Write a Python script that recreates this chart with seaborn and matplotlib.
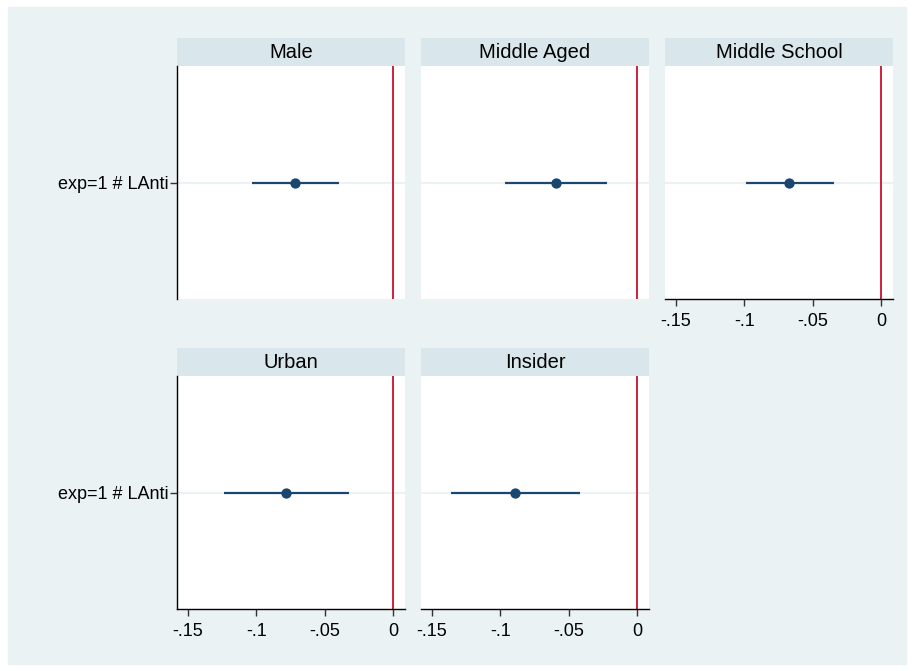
import matplotlib
matplotlib.use("Agg")
import matplotlib.pyplot as plt
from matplotlib.patches import Rectangle
import seaborn as sns
import pandas as pd

# coefficient estimates
groups = ["Male", "Middle Aged", "Middle School", "Urban", "Insider"]
coef = [-0.0716, -0.0590, -0.0670, -0.0780, -0.0890]
ci_low = [-0.1032, -0.0963, -0.0990, -0.1235, -0.1360]
ci_high = [-0.0392, -0.0216, -0.0346, -0.0320, -0.0420]
term = "exp=1 # LAnti"
xticks = [-0.15, -0.1, -0.05, 0]
xticklabels = ["-.15", "-.1", "-.05", "0"]

df = pd.DataFrame({"group": groups, "coef": coef, "lo": ci_low, "hi": ci_high, "term": term})

sns.set_theme(style="white")
plt.rcParams["font.family"] = ["Liberation Sans", "DejaVu Sans"]
plt.rcParams["text.color"] = "black"
plt.rcParams["xtick.color"] = "black"
plt.rcParams["ytick.color"] = "black"

BG = "#EAF2F3"
HEAD = "#D9E6EB"
NAVY = "#1A476F"
RED = "#C8102E"
FS = 13

W, H = 914, 671
fig = plt.figure(figsize=(W / 100, H / 100), dpi=100)
fig.patch.set_facecolor("white")
fig.patches.append(Rectangle((8 / W, 1 - 664 / H), 898 / W, 657 / H,
                             transform=fig.transFigure, color=BG, zorder=-10))

cols = [(177, 405), (421, 649), (665, 893)]
rows = [(38, 66, 299), (348, 376, 609)]


def box(x0, x1, y0, y1):
    return [x0 / W, 1 - y1 / H, (x1 - x0) / W, (y1 - y0) / H]


def coef_panel(ax, row, first_col, show_x):
    sub = df.iloc[[row]]
    ax.set_facecolor("white")
    ax.axhline(0, color=BG, lw=1.5, zorder=1)
    ax.axvline(0, color=RED, lw=1.3, zorder=2)
    ax.hlines(y=[0], xmin=sub["lo"], xmax=sub["hi"], color=NAVY, lw=1.6, zorder=3)
    sns.scatterplot(x=sub["coef"], y=[0], ax=ax, color=NAVY, s=55,
                    edgecolor=NAVY, linewidth=0, zorder=4)
    ax.set_xlim(-0.158, 0.0088)
    ax.set_ylim(-1, 1)
    ax.set_xlabel("")
    ax.set_ylabel("")
    for s in ax.spines.values():
        s.set_visible(False)
    if first_col:
        ax.spines["left"].set_visible(True)
        ax.spines["left"].set_color("black")
        ax.spines["left"].set_linewidth(1.0)
        ax.set_yticks([0])
        ax.set_yticklabels([term], fontsize=FS)
        ax.tick_params(axis="y", length=5, width=1, color="#333333", left=True, pad=1)
    else:
        ax.set_yticks([])
    if show_x:
        ax.spines["bottom"].set_visible(True)
        ax.spines["bottom"].set_color("black")
        ax.spines["bottom"].set_linewidth(1.0)
        ax.set_xticks(xticks)
        ax.set_xticklabels(xticklabels, fontsize=FS)
        ax.tick_params(axis="x", length=5, width=1, color="#333333", bottom=True, pad=5)
    else:
        ax.set_xticks([])


layout = [(0, 0, False), (0, 1, False), (0, 2, True), (1, 0, True), (1, 1, True)]
for i, (r, c, show_x) in enumerate(layout):
    x0, x1 = cols[c]
    hy0, hy1, py1 = rows[r]
    hax = fig.add_axes(box(x0, x1, hy0, hy1))
    hax.set_facecolor(HEAD)
    hax.set_xticks([])
    hax.set_yticks([])
    for s in hax.spines.values():
        s.set_visible(False)
    hax.text(0.5, 0.5, groups[i], ha="center", va="center", fontsize=14.5,
             transform=hax.transAxes)
    ax = fig.add_axes(box(x0, x1, hy1, py1))
    coef_panel(ax, i, c == 0, show_x)

fig.savefig("out.png", dpi=100, facecolor=fig.get_facecolor())
